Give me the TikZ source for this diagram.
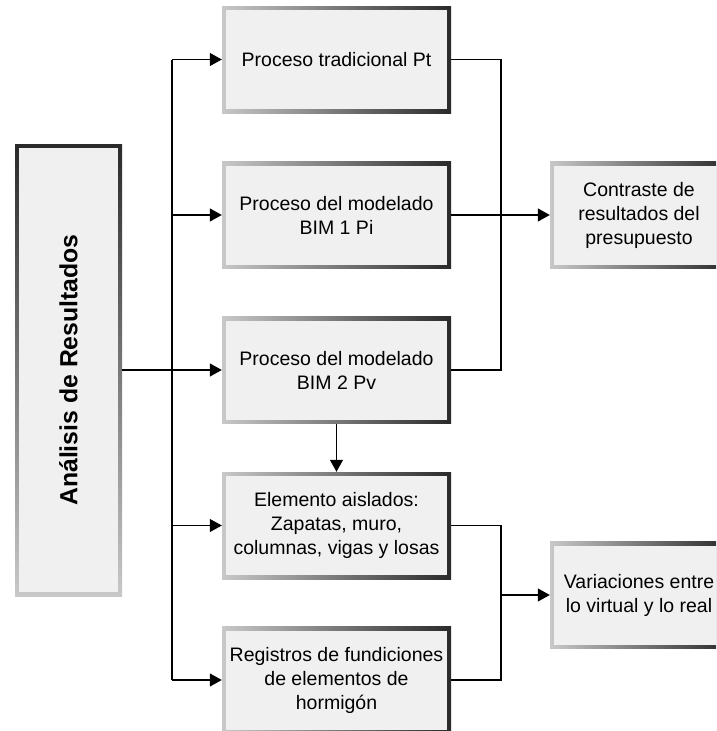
\documentclass[tikz,border=0pt]{standalone}
\usepackage{fontspec}
\setmainfont{Liberation Sans}
\usepackage{graphicx}
\usetikzlibrary{arrows.meta}
\definecolor{boxfill}{HTML}{F0F0F0}
\definecolor{edgelight}{HTML}{C8C8C8}
\definecolor{edgedark}{HTML}{2A2A2A}
\tikzset{
  procbox/.style={rectangle, inner sep=0pt, align=center,
    minimum width=229pt, minimum height=107pt,
    left color=edgelight, right color=edgedark,
    font=\fontsize{19.5}{24}\selectfont,
    path picture={\fill[boxfill]
      ([shift={(4pt,4pt)}]path picture bounding box.south west) rectangle
      ([shift={(-4pt,-4pt)}]path picture bounding box.north east);}},
  sidebox/.style={procbox, minimum width=178pt},
  mainbox/.style={rectangle, inner sep=0pt, align=center,
    minimum width=107pt, minimum height=452pt,
    top color=edgedark, bottom color=edgelight,
    font=\fontsize{24.8}{29}\selectfont\bfseries,
    path picture={\fill[boxfill]
      ([shift={(4pt,4pt)}]path picture bounding box.south west) rectangle
      ([shift={(-4pt,-4pt)}]path picture bounding box.north east);}},
  conn/.style={line width=1.1pt, black},
  arr/.style={conn, -{Triangle[length=12pt,width=13pt]}}
}
\begin{document}
\begin{tikzpicture}[x=1pt,y=-1pt]
\useasboundingbox (0,0) rectangle (716,731);
\begin{scope}
\clip (0,0) rectangle (716,731);
\node[mainbox] (L) at (68.5,370) {\rotatebox{90}{Análisis de Resultados}};
\node[procbox] (Pt) at (336.5,59.5) {Proceso tradicional Pt};
\node[procbox] (Pi) at (336.5,215) {Proceso del modelado\\BIM 1 Pi};
\node[procbox] (Pv) at (336.5,370) {Proceso del modelado\\BIM 2 Pv};
\node[procbox] (El) at (336.5,525.5) {Elemento aislados:\\Zapatas, muro,\\columnas, vigas y losas};
\node[procbox] (Re) at (336.5,680) {Registros de fundiciones\\de elementos de\\hormigón};
\node[sidebox] (Co) at (639,215) {Contraste de\\resultados del\\presupuesto};
\node[sidebox] (Va) at (639,595) {Variaciones entre\\lo virtual y lo real};
\end{scope}
\coordinate (j) at (172,370);
\coordinate (r) at (501,370);
% left trunk
\draw[conn] (L.east |- j) -- (j);
\draw[conn] (Pt.west -| j) -- (Re.west -| j);
\draw[arr] (Pt.west -| j) -- (Pt.west);
\draw[arr] (Pi.west -| j) -- (Pi.west);
\draw[arr] (Pv.west -| j) -- (Pv.west);
\draw[arr] (El.west -| j) -- (El.west);
\draw[arr] (Re.west -| j) -- (Re.west);
% Pv to El
\draw[arr] (Pv.south) -- (El.north);
% right collectors
\draw[conn] (Pt.east) -- (Pt.east -| r) -- (Pv.east -| r) -- (Pv.east);
\draw[arr] (Pi.east) -- (Co.west);
\draw[conn] (El.east) -- (El.east -| r) -- (Re.east -| r) -- (Re.east);
\draw[arr] (Va.west -| r) -- (Va.west);
\end{tikzpicture}
\end{document}
